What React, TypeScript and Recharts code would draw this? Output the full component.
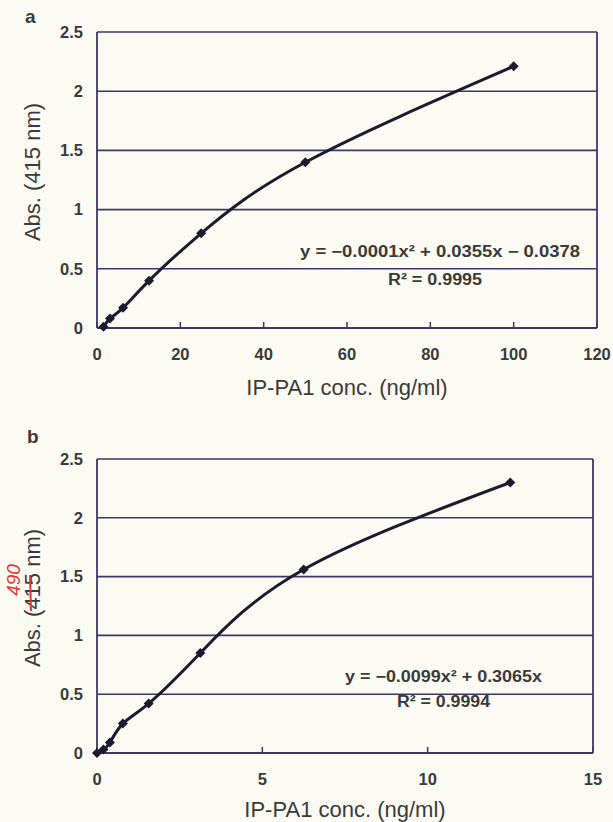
import React from 'react';
import {
  LineChart,
  Line,
  XAxis,
  YAxis,
  CartesianGrid,
  ReferenceLine,
  Label,
} from 'recharts';

// panel a: IP-PA1 standard curve, 415 nm
const CONC_A = [1.5625, 3.125, 6.25, 12.5, 25, 50, 100];
const ABS_A = [0.01, 0.08, 0.17, 0.4, 0.8, 1.4, 2.21];
const X_TICKS_A = [0, 20, 40, 60, 80, 100, 120];

// panel b: low range curve
const CONC_B = [0, 0.195, 0.39, 0.78, 1.5625, 3.125, 6.25, 12.5];
const ABS_B = [0, 0.03, 0.09, 0.25, 0.42, 0.85, 1.56, 2.3];
const X_TICKS_B = [0, 5, 10, 15];

const Y_TICKS = [0, 0.5, 1, 1.5, 2, 2.5];

const BG = '#fbfbf3';
const GRID = '#3b3868';
const INK = '#1c1a2e';
const TEXT = '#3a3a3a';
const FONT = '"Liberation Sans", Arial, sans-serif';

const dataA = CONC_A.map((x, i) => ({ x, y: ABS_A[i] }));
const dataB = CONC_B.map((x, i) => ({ x, y: ABS_B[i] }));

const Diamond = (props: any) => {
  const { cx, cy } = props;
  if (cx == null || cy == null) return null;
  const r = 5;
  return (
    <path
      key={`${cx}-${cy}`}
      d={`M${cx},${cy - r}L${cx + r},${cy}L${cx},${cy + r}L${cx - r},${cy}Z`}
      fill={INK}
    />
  );
};

const tickStyle = { fill: TEXT, fontSize: 16.5, fontWeight: 700, fontFamily: FONT };

const YTitle = ({ viewBox }: any) => {
  const cx = 32;
  const cy = viewBox.y + viewBox.height / 2 - 8;
  return (
    <text
      x={cx}
      y={cy}
      transform={`rotate(-90 ${cx} ${cy})`}
      textAnchor="middle"
      dominantBaseline="central"
      fill={TEXT}
      fontSize={22}
      fontFamily={FONT}
    >
      Abs. (415 nm)
    </text>
  );
};

function Panel({
  data,
  xMax,
  xTicks,
  top,
  right,
  xAxisHeight,
  titleOffset,
}: {
  data: { x: number; y: number }[];
  xMax: number;
  xTicks: number[];
  top: number;
  right: number;
  xAxisHeight: number;
  titleOffset: number;
}) {
  return (
    <LineChart
      width={613}
      height={411}
      data={data}
      margin={{ top, right, bottom: 0, left: 0 }}
      style={{ fontFamily: FONT }}
    >
      <CartesianGrid horizontal vertical={false} stroke={GRID} strokeWidth={1.6} />
      <XAxis
        type="number"
        dataKey="x"
        domain={[0, xMax]}
        ticks={xTicks}
        interval={0}
        height={xAxisHeight}
        tick={tickStyle}
        tickSize={-6}
        tickMargin={26}
        tickLine={{ stroke: GRID, strokeWidth: 1.5 }}
        axisLine={{ stroke: GRID, strokeWidth: 1.8 }}
      >
        <Label
          value="IP-PA1 conc. (ng/ml)"
          position="insideBottom"
          offset={titleOffset}
          fill={TEXT}
          fontSize={22}
          fontFamily={FONT}
        />
      </XAxis>
      <YAxis
        type="number"
        domain={[0, 2.5]}
        ticks={Y_TICKS}
        interval={0}
        width={97}
        tick={tickStyle}
        tickSize={0}
        tickMargin={14}
        tickLine={false}
        axisLine={{ stroke: GRID, strokeWidth: 1.8 }}
      >
        <Label content={<YTitle />} />
      </YAxis>
      <ReferenceLine x={xMax} stroke={GRID} strokeWidth={1.8} />
      <Line
        type="natural"
        dataKey="y"
        stroke={INK}
        strokeWidth={3}
        dot={<Diamond />}
        activeDot={false}
        isAnimationActive={false}
      />
    </LineChart>
  );
}

const eqStyle = { fill: TEXT, fontSize: 16, fontWeight: 700, fontFamily: FONT };

export default function App() {
  return (
    <div
      style={{
        position: 'absolute',
        left: 0,
        top: 0,
        width: 613,
        height: 822,
        background: BG,
        overflow: 'hidden',
      }}
    >
      <div style={{ position: 'absolute', left: 0, top: 0 }}>
        <Panel
          data={dataA}
          xMax={120}
          xTicks={X_TICKS_A}
          top={32}
          right={16}
          xAxisHeight={83}
          titleOffset={16}
        />
      </div>
      <div style={{ position: 'absolute', left: 0, top: 411 }}>
        <Panel
          data={dataB}
          xMax={15}
          xTicks={X_TICKS_B}
          top={48}
          right={20}
          xAxisHeight={69}
          titleOffset={5}
        />
      </div>
      <svg
        width={613}
        height={822}
        style={{ position: 'absolute', left: 0, top: 0, pointerEvents: 'none' }}
      >
        <text x={25} y={23} fill={TEXT} fontSize={19} fontWeight={700} fontFamily={FONT}>
          a
        </text>
        <text x={27} y={443} fill={TEXT} fontSize={19} fontWeight={700} fontFamily={FONT}>
          b
        </text>

        <text x={300} y={257} textLength={280} lengthAdjust="spacingAndGlyphs" {...eqStyle}>
          y = −0.0001x² + 0.0355x − 0.0378
        </text>
        <text x={388} y={285} textLength={94} lengthAdjust="spacingAndGlyphs" {...eqStyle}>
          R² = 0.9995
        </text>

        <text x={345} y={682} textLength={197} lengthAdjust="spacingAndGlyphs" {...eqStyle}>
          y = −0.0099x² + 0.3065x
        </text>
        <text x={397} y={707} textLength={93} lengthAdjust="spacingAndGlyphs" {...eqStyle}>
          R² = 0.9994
        </text>

        {/* handwritten correction on panel b */}
        <text
          x={13}
          y={580}
          transform="rotate(-90 13 580)"
          textAnchor="middle"
          dominantBaseline="central"
          fill="#e8342c"
          fontSize={19}
          fontStyle="italic"
          fontFamily={FONT}
        >
          490
        </text>
        <line x1={30} y1={575} x2={31} y2={611} stroke="#e8342c" strokeWidth={2} />
      </svg>
    </div>
  );
}
